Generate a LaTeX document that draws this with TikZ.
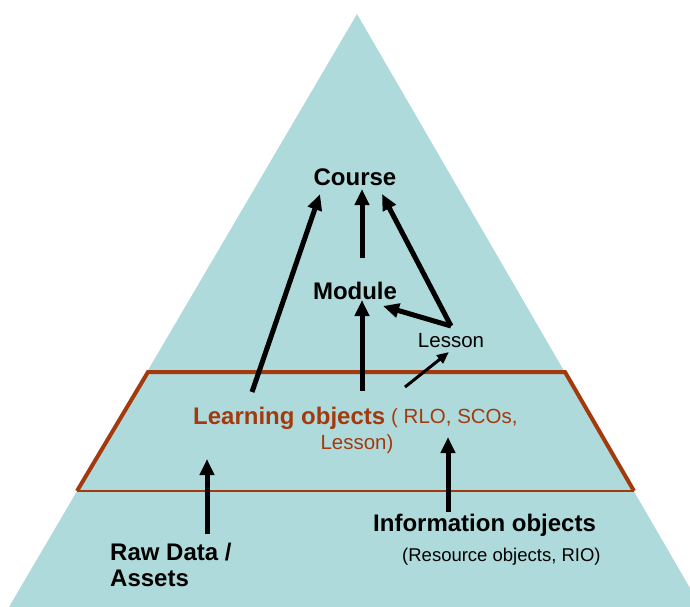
\documentclass[tikz,border=0pt]{standalone}
\usepackage{fontspec}
\setmainfont{Liberation Sans}
\usetikzlibrary{arrows.meta}
\definecolor{pyrfill}{HTML}{AEDADB}
\definecolor{trapbrown}{HTML}{A33A0E}
\tikzset{
  bigarrow/.style={line width=5pt,-{Triangle[length=16pt,width=14pt]}},
  thinarrow/.style={line width=3pt,-{Triangle[length=12pt,width=10pt]}},
  boldlbl/.style={font=\fontsize{24}{26}\selectfont\bfseries,inner sep=0pt},
  smalllbl/.style={font=\fontsize{20.5}{22}\selectfont,inner sep=0pt},
}
\begin{document}
\begin{tikzpicture}[x=1pt,y=-1pt]
\useasboundingbox (0,0) rectangle (690,607);
% pyramid
\fill[pyrfill] (357,14) -- (701,607) -- (9,607) -- cycle;
% trapezoid
\draw[trapbrown,line width=4pt,line join=miter] (77,491) -- (148,372) -- (565,372) -- (634,491);
\draw[trapbrown,line width=2pt] (77,491) -- (634,491);
% labels
\node[boldlbl] (course) at (355,177) {Course};
\node[boldlbl] (module) at (355,291) {Module};
\node[smalllbl] (lesson) at (451,341) {Lesson};
\node[boldlbl,text=trapbrown,anchor=west] (lo) at (193,418) {Learning objects};
\node[smalllbl,text=trapbrown,anchor=west] (lo2) at (391,418) {( RLO, SCOs,};
\node[smalllbl,text=trapbrown] (lo3) at (357,444) {Lesson)};
\node[boldlbl,anchor=west] (info) at (373,525) {Information objects};
\node[font=\fontsize{18.5}{20}\selectfont,inner sep=0pt,anchor=west] (info2) at (402,557) {(Resource objects, RIO)};
\node[boldlbl,anchor=west,align=left] (raw) at (110,565) {Raw Data /\\Assets};
% connector end points
\coordinate (loA) at (252,392);
\coordinate (courseL) at (320,194);
\coordinate (modTop) at (362,258);
\coordinate (courseM) at (362,189);
\coordinate (lesTop) at (451,326);
\coordinate (courseR) at (382,194);
\coordinate (modR) at (383,306);
\coordinate (loM) at (362,391);
\coordinate (modB) at (362,300);
\coordinate (loR) at (405,387);
\coordinate (lesB) at (449,352);
\coordinate (rawT) at (207,534);
\coordinate (loL) at (207,459);
\coordinate (infoT) at (448,512);
\coordinate (loRR) at (448,437);
% arrows
\draw[bigarrow] (loA) -- (courseL);
\draw[bigarrow] (modTop) -- (courseM);
\draw[bigarrow] (lesTop) -- (courseR);
\draw[bigarrow] (lesTop) -- (modR);
\draw[bigarrow] (loM) -- (modB);
\draw[thinarrow] (loR) -- (lesB);
\draw[bigarrow] (rawT) -- (loL);
\draw[bigarrow] (infoT) -- (loRR);
\end{tikzpicture}
\end{document}
